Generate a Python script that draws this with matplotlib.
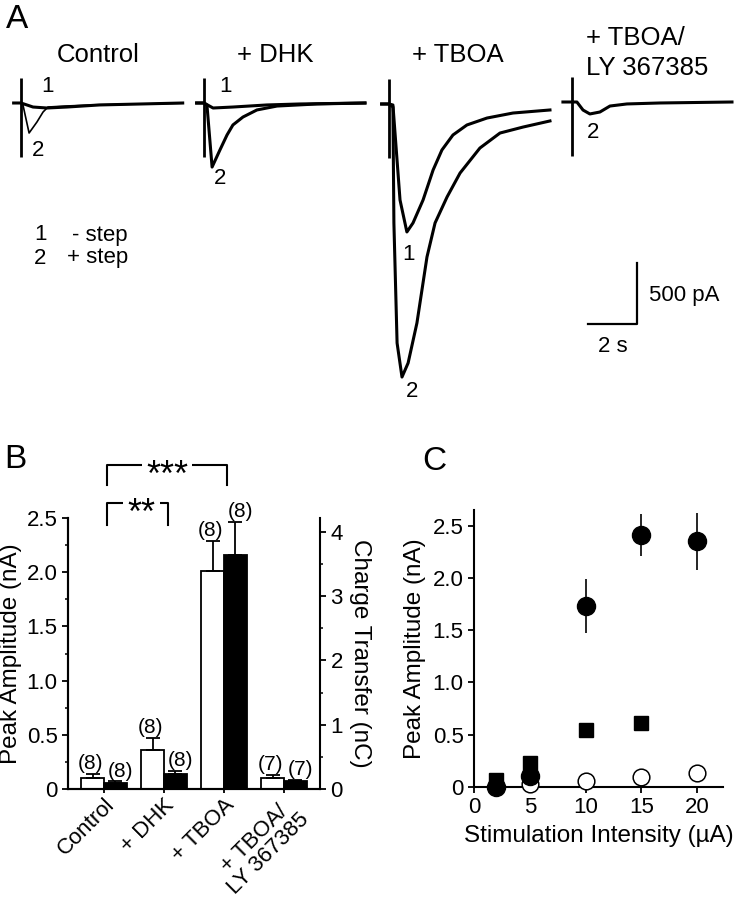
import matplotlib
matplotlib.use("Agg")
import matplotlib.pyplot as plt
import numpy as np

plt.rcParams['font.family'] = ['Liberation Sans', 'DejaVu Sans']

W, H = 743, 900

# ---------------- Panel A: example current traces (time in s, current in pA) ----------------
ctrl_t1 = [-0.3, 0.0, 0.24, 0.49, 1.06, 1.88, 3.2, 6.6]
ctrl_i1 = [0, 0, -16, -33, -41, -33, -16, 0]
ctrl_t2 = [-0.3, 0.0, 0.08, 0.33, 0.65, 0.90, 1.10, 1.8, 3.0, 6.6]
ctrl_i2 = [0, 0, -16, -246, -156, -74, -33, -25, -15, -2]

dhk_t1 = [-0.3, 0.0, 0.37, 1.18, 2.57, 3.9, 6.57]
dhk_i1 = [0, 0, -41, -33, -16, -8, 0]
dhk_t2 = [-0.3, 0.0, 0.12, 0.33, 0.65, 0.94, 1.18, 1.59, 2.16, 2.98, 4.61, 6.57]
dhk_i2 = [0, 0, -16, -525, -385, -262, -180, -115, -57, -25, -8, 0]

tboa_t1 = [-0.3, 0.0, 0.16, 0.45, 0.73, 0.98, 1.39, 1.80, 2.16, 2.61, 3.18, 4.0, 5.06, 6.57]
tboa_i1 = [0, 0, -8, -787, -1049, -975, -787, -541, -377, -254, -172, -115, -74, -49]
tboa_t2 = [-0.3, 0.0, 0.16, 0.20, 0.33, 0.53, 0.78, 1.14, 1.55, 1.88, 2.37, 2.90, 3.71, 4.53, 5.47, 6.57]
tboa_i2 = [0, 0, -25, -975, -1959, -2238, -2123, -1795, -1254, -975, -762, -566, -361, -238, -189, -139]

ly_t = [-0.37, 0.0, 0.2, 0.45, 0.73, 1.14, 1.55, 2.24, 3.59, 6.53]
ly_i = [0, 0, 0, -66, -98, -82, -33, -16, -8, 0]

stim_artifact = [205, -443]          # pA extent of stimulus artifact bar
scale_time, scale_current = 2, 500   # scale bar: 2 s, 500 pA

# ---------------- Panel B ----------------
conditions = ["Control", "+ DHK", "+ TBOA", "+ TBOA/\nLY 367385"]
amp_mean = [0.10, 0.36, 2.01, 0.10]
amp_sem = [0.04, 0.11, 0.28, 0.03]
charge_mean = [0.09, 0.23, 3.64, 0.12]
charge_sem = [0.03, 0.05, 0.51, 0.02]
n_amp = [8, 8, 8, 7]
n_charge = [8, 8, 8, 7]

# ---------------- Panel C ----------------
stim_circ = [2, 5, 10, 15, 20]
circ_filled = [0.0, 0.105, 1.73, 2.41, 2.35]
circ_filled_err = [0.0, 0.0, 0.26, 0.20, 0.27]
stim_sq = [2, 5, 10, 15]
sq_filled = [0.065, 0.23, 0.545, 0.61]
sq_filled_err = [0.0, 0.0, 0.0, 0.05]
stim_open = [5, 10, 15, 20]
circ_open = [0.03, 0.06, 0.10, 0.13]

fig = plt.figure(figsize=(W / 100, H / 100), dpi=100)


def box(l, t, r, b):
    return [l / W, 1 - b / H, (r - l) / W, (b - t) / H]


def ftext(x, y, s, **kw):
    fig.text(x / W, 1 - y / H, s, **kw)


PX_S = 24.5     # px per second
PX_PA = 0.122   # px per pA
T0, T1 = -0.5, 6.9
I0, I1 = -2400, 400


def trace_axes(stim_x, base_y):
    l = stim_x + PX_S * T0
    r = stim_x + PX_S * T1
    t = base_y - PX_PA * I1
    b = base_y - PX_PA * I0
    ax = fig.add_axes(box(l, t, r, b))
    ax.set_xlim(T0, T1)
    ax.set_ylim(I0, I1)
    ax.axis('off')
    ax.plot([0, 0], stim_artifact, color='black', lw=2.0, solid_capstyle='butt')
    return ax


lw_tr = 2.2
axc = trace_axes(21, 103)
axc.plot(ctrl_t1, ctrl_i1, color='black', lw=lw_tr)
axc.plot(ctrl_t2, ctrl_i2, color='black', lw=1.2)

axd = trace_axes(204, 103)
axd.plot(dhk_t1, dhk_i1, color='black', lw=lw_tr)
axd.plot(dhk_t2, dhk_i2, color='black', lw=lw_tr)

axt = trace_axes(389, 104)
axt.plot(tboa_t1, tboa_i1, color='black', lw=lw_tr)
axt.plot(tboa_t2, tboa_i2, color='black', lw=lw_tr)

axl = trace_axes(572, 102)
axl.plot(ly_t, ly_i, color='black', lw=lw_tr)
# scale bar
sb_x, sb_y = 0.65, -1820
axl.plot([sb_x, sb_x + scale_time, sb_x + scale_time],
         [sb_y, sb_y, sb_y + scale_current], color='black', lw=1.6, clip_on=False)

fsA = 18.5
ftext(17, 19, "A", fontsize=24, ha='center', va='center')
ftext(98, 55, "Control", fontsize=fsA, ha='center', va='center')
ftext(275, 55, "+ DHK", fontsize=fsA, ha='center', va='center')
ftext(458, 55, "+ TBOA", fontsize=fsA, ha='center', va='center')
ftext(586, 38, "+ TBOA/", fontsize=fsA, ha='left', va='center')
ftext(586, 68, "LY 367385", fontsize=fsA, ha='left', va='center')

fsn = 16
ftext(47, 87, "1", fontsize=fsn, ha='center', va='center')
ftext(38, 151, "2", fontsize=fsn, ha='center', va='center')
ftext(225, 87, "1", fontsize=fsn, ha='center', va='center')
ftext(220, 178, "2", fontsize=fsn, ha='center', va='center')
ftext(408, 255, "1", fontsize=fsn, ha='center', va='center')
ftext(412, 392, "2", fontsize=fsn, ha='center', va='center')
ftext(593, 133, "2", fontsize=fsn, ha='center', va='center')

ftext(40, 235, "1", fontsize=16, ha='center', va='center')
ftext(128, 235, "- step", fontsize=16, ha='right', va='center')
ftext(40, 258, "2", fontsize=16, ha='center', va='center')
ftext(128, 258, "+ step", fontsize=16, ha='right', va='center')

ftext(649, 295, "500 pA", fontsize=16, ha='left', va='center')
ftext(613, 347, "2 s", fontsize=16, ha='center', va='center')

# ---------------- Panel B ----------------
fs_tick = 16
fs_lab = 17.5
axb = fig.add_axes(box(68, 518, 320, 789))
axb2 = axb.twinx()
x = np.arange(len(conditions))
w = 0.38
axb.bar(x - w / 2, amp_mean, w, color='white', edgecolor='black', lw=1.3, zorder=2)
axb.errorbar(x - w / 2, amp_mean, yerr=[np.zeros(len(x)), amp_sem], fmt='none',
             ecolor='black', elinewidth=1.3, capsize=5, capthick=1.3, zorder=3)
axb2.bar(x + w / 2, charge_mean, w, color='black', edgecolor='black', lw=1.3, zorder=2)
axb2.errorbar(x + w / 2, charge_mean, yerr=[np.zeros(len(x)), charge_sem], fmt='none',
              ecolor='black', elinewidth=1.3, capsize=5, capthick=1.3, zorder=3)

n_kw = dict(textcoords='offset points', ha='center', va='bottom', fontsize=15,
            annotation_clip=False)
for i in range(len(x)):
    axb.annotate(f"({n_amp[i]})", (x[i] - w / 2, amp_mean[i] + amp_sem[i]),
                 xytext=(-1.5, 0.5), **n_kw)
    axb2.annotate(f"({n_charge[i]})", (x[i] + w / 2, charge_mean[i] + charge_sem[i]),
                  xytext=(3.5, 0.5), **n_kw)

axb.set_xlim(-0.6, 3.6)
axb.set_ylim(0, 2.5)
axb2.set_ylim(0, 4.215)
axb.set_yticks([0, 0.5, 1.0, 1.5, 2.0, 2.5])
axb.set_yticklabels(["0", "0.5", "1.0", "1.5", "2.0", "2.5"])
axb.set_yticks(np.arange(0.25, 2.5, 0.5), minor=True)
axb2.set_yticks([0, 1, 2, 3, 4])
axb2.set_yticks(np.arange(0.5, 4.2, 1.0), minor=True)
axb.set_xticks(x)
axb.set_xticklabels(conditions, rotation=45, ha='right', rotation_mode='anchor',
                    multialignment='center', fontsize=16, linespacing=0.95)
for a in (axb, axb2):
    a.spines['top'].set_visible(False)
    for s in a.spines.values():
        s.set_linewidth(1.5)
    a.tick_params(direction='out', width=1.3, length=4)
    a.tick_params(axis='y', labelsize=fs_tick)
    a.tick_params(which='minor', direction='out', width=1.1, length=2.5)
axb.tick_params(axis='x', length=3, pad=1)
axb.spines['right'].set_visible(False)
axb.set_ylabel("Peak Amplitude (nA)", fontsize=fs_lab, labelpad=3)
axb2.set_ylabel("Charge Transfer (nC)", fontsize=fs_lab, rotation=270, labelpad=20)

# significance brackets
br_kw = dict(color='black', lw=1.5, clip_on=False)
st_kw = dict(textcoords='offset points', ha='center', va='baseline', fontsize=26,
             annotation_clip=False,
             bbox=dict(facecolor='white', edgecolor='none', pad=3.0))
axb.plot([0.05, 0.05, 2.05, 2.05], [2.80, 2.99, 2.99, 2.80], **br_kw)
axb.annotate("***", (1.05, 2.99), xytext=(0, -15), **st_kw)
axb.plot([0.05, 0.05, 1.07, 1.07], [2.44, 2.64, 2.64, 2.44], **br_kw)
axb.annotate("**", (0.62, 2.64), xytext=(0, -15), **st_kw)

ftext(15, 460, "B", fontsize=24, ha='center', va='center')

# ---------------- Panel C ----------------
axcc = fig.add_axes(box(474, 510, 723, 787))
axcc.errorbar(stim_circ, circ_filled, yerr=circ_filled_err, fmt='none',
              ecolor='black', elinewidth=1.2, capsize=0, zorder=2)
axcc.errorbar(stim_sq, sq_filled, yerr=sq_filled_err, fmt='none',
              ecolor='black', elinewidth=1.2, capsize=0, zorder=2)
axcc.plot(stim_open, circ_open, 'o', ms=12, mfc='white', mec='black', mew=1.1,
          clip_on=False, zorder=3)
axcc.plot(stim_sq, sq_filled, 's', ms=10.5, mfc='black', mec='black',
          clip_on=False, zorder=4)
axcc.plot(stim_circ, circ_filled, 'o', ms=13, mfc='black', mec='black',
          clip_on=False, zorder=5)
axcc.set_xlim(0, 22.3)
axcc.set_ylim(0, 2.65)
axcc.set_xticks([0, 5, 10, 15, 20])
axcc.set_yticks([0, 0.5, 1.0, 1.5, 2.0, 2.5])
axcc.set_yticklabels(["0", "0.5", "1.0", "1.5", "2.0", "2.5"])
axcc.spines['top'].set_visible(False)
axcc.spines['right'].set_visible(False)
for s in axcc.spines.values():
    s.set_linewidth(1.5)
axcc.tick_params(direction='out', width=1.3, length=4, labelsize=fs_tick)
axcc.set_xlabel("Stimulation Intensity (µA)", fontsize=fs_lab, labelpad=5)
axcc.set_ylabel("Peak Amplitude (nA)", fontsize=fs_lab, labelpad=5)

ftext(434, 461, "C", fontsize=24, ha='center', va='center')

fig.savefig("out.png", dpi=100)
